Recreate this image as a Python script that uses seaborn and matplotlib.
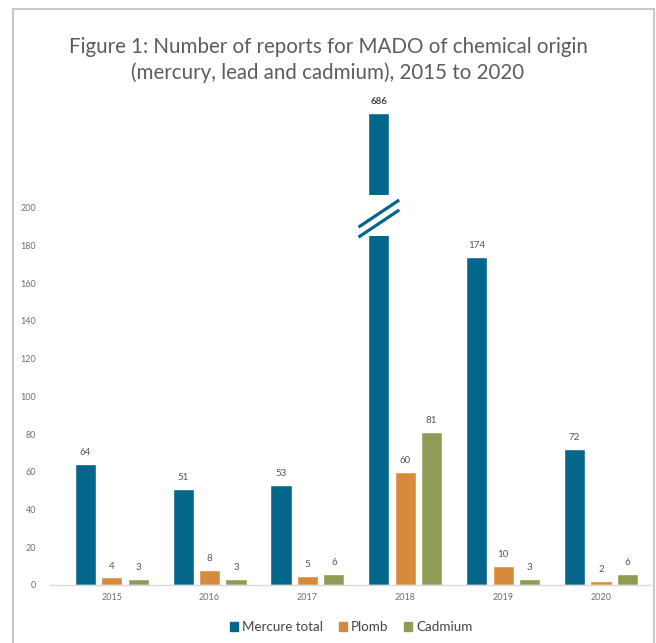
import matplotlib
matplotlib.use("Agg")
import matplotlib.pyplot as plt
from matplotlib.patches import Rectangle
from matplotlib.lines import Line2D
import seaborn as sns
import pandas as pd

years = ["2015", "2016", "2017", "2018", "2019", "2020"]
mercure = [64, 51, 53, 686, 174, 72]
plomb = [4, 8, 5, 60, 10, 2]
cadmium = [3, 3, 6, 81, 3, 6]
series_names = ["Mercure total", "Plomb", "Cadmium"]
colors = ["#04668A", "#D58B3B", "#8F9C55"]
yticks = [0, 20, 40, 60, 80, 100, 120, 140, 160, 180, 200]

# axis break: the tall bar is cut between these two values
BREAK_LOW = 185
LOWER_TOP = 204
UPPER_RANGE = (642.5, 698)

df = pd.DataFrame({
    "year": years * 3,
    "count": mercure + plomb + cadmium,
    "series": [s for s in series_names for _ in years],
})

sns.set_theme(style="white")
plt.rcParams["font.family"] = ["Lato", "DejaVu Sans"]

W, H = 656, 643
fig = plt.figure(figsize=(W / 100, H / 100), dpi=100)

def px_axes(left, top, right, bottom):
    return fig.add_axes([left / W, 1 - bottom / H, (right - left) / W, (bottom - top) / H])

ax = px_axes(50, 200, 650, 585)
ax_up = px_axes(50, 90, 650, 195)

for a in (ax, ax_up):
    sns.barplot(data=df, x="year", y="count", hue="series", palette=colors,
                hue_order=series_names, width=0.81, gap=0.2, saturation=1,
                legend=False, ax=a)
    a.set_xlim(-0.63, 5.5)
    a.set_xlabel("")
    a.set_ylabel("")

ax.set_ylim(0, LOWER_TOP)
ax_up.set_ylim(*UPPER_RANGE)

# lower panel styling
for s in ["top", "right", "left"]:
    ax.spines[s].set_visible(False)
ax.spines["bottom"].set_color("#d9d9d9")
ax.spines["bottom"].set_linewidth(1.0)
ax.set_yticks(yticks)
ax.tick_params(axis="y", length=0, pad=10, labelsize=6.5, labelcolor="#707070")
ax.tick_params(axis="x", length=0, pad=6, labelsize=6.5, labelcolor="#707070")

# upper panel: only the top of the tall bar is visible
ax_up.axis("off")

tall_series, tall_idx = 0, mercure.index(max(mercure))

for i, cont in enumerate(ax.containers):
    vals = [mercure, plomb, cadmium][i]
    labels = ["" if (i == tall_series and j == tall_idx) else str(v) for j, v in enumerate(vals)]
    ax.bar_label(cont, labels=labels, padding=5, fontsize=7, color="#555555")

tall_patch = ax.containers[tall_series].patches[tall_idx]
tall_patch.set_clip_path(Rectangle((-1, 0), 10, BREAK_LOW, transform=ax.transData))

up_labels = ["" for _ in years]
up_labels[tall_idx] = str(mercure[tall_idx])
ax_up.bar_label(ax_up.containers[tall_series], labels=up_labels, padding=5,
                fontsize=7, fontweight="bold", color="#444444")

# break marks across the cut
cx = tall_patch.get_x() + tall_patch.get_width() / 2
half = tall_patch.get_width() / 2 + 0.1
for yc in (196.8, 191.5):
    ax.add_line(Line2D([cx - half, cx + half], [yc - 7.2, yc + 7.2],
                       color=colors[0], lw=2.3, clip_on=False, solid_capstyle="butt"))

# legend
handles = [Rectangle((0, 0), 1, 1, color=c) for c in colors]
fig.legend(handles, series_names, loc="center", bbox_to_anchor=(351 / W, 1 - 627 / H),
           ncol=3, frameon=False, handlelength=0.6, handleheight=0.6,
           handletextpad=0.3, columnspacing=1.2, fontsize=9.6,
           labelcolor="#444444")

# title
fig.text(0.5, 1 - 60 / H,
         "Figure 1: Number of reports for MADO of chemical origin\n(mercury, lead and cadmium), 2015 to 2020",
         ha="center", va="center", fontsize=14.8, color="#5c5c5c",
         fontweight="normal", linespacing=1.3)

# outer frame
fig.patches.append(Rectangle((13 / W, -0.02), (654 - 13) / W, 1.02 - 9 / H,
                             transform=fig.transFigure, fill=False,
                             edgecolor="#c8c8c8", linewidth=1.5))

fig.savefig("out.png", dpi=100)
